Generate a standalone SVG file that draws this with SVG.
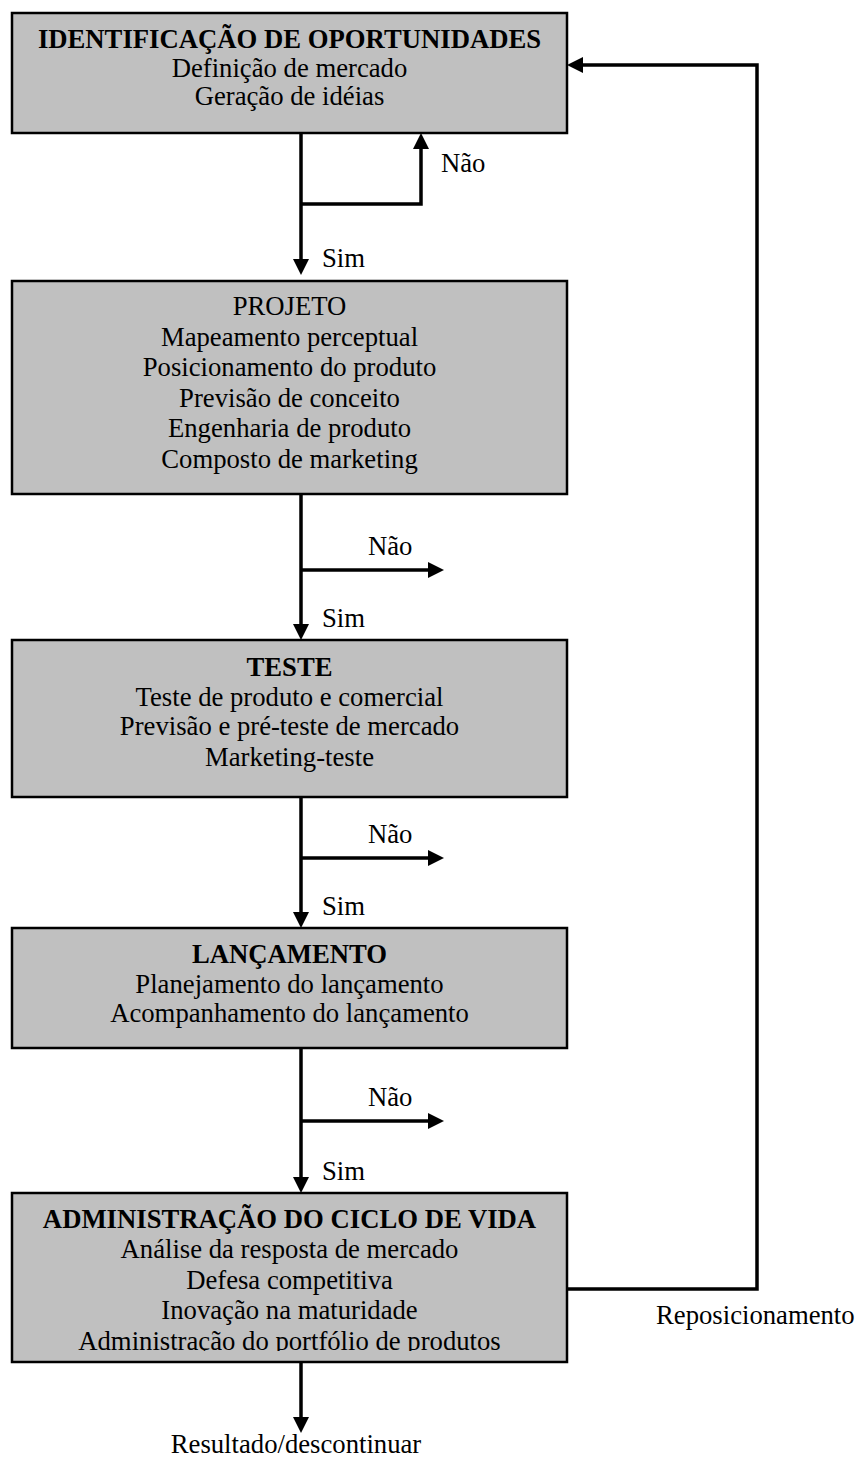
<svg xmlns="http://www.w3.org/2000/svg" width="858" height="1458" viewBox="0 0 858 1458">
  <style>
    .box { fill: #c0c0c0; stroke: #000; stroke-width: 2.5; }
    .t { font-family: "Liberation Serif", "Times New Roman", serif; font-size: 26.7px; fill: #000; text-anchor: middle; }
    .b { font-weight: bold; }
    .lbl { font-family: "Liberation Serif", "Times New Roman", serif; font-size: 26.7px; fill: #000; }
    .wire { fill: none; stroke: #000; stroke-width: 3.5; stroke-linejoin: miter; }
  </style>
  <defs>
    <marker id="arrow" viewBox="0 0 16 16" refX="3" refY="8" markerWidth="16" markerHeight="16" markerUnits="userSpaceOnUse" orient="auto">
      <path d="M0,0 L16,8 L0,16 z" fill="#000"/>
    </marker>
    <clipPath id="clip-admin">
      <rect x="12" y="1193" width="555" height="158"/>
    </clipPath>
  </defs>

  <rect x="0" y="0" width="858" height="1458" fill="#fff"/>

  <!-- connectors -->
  <g id="connectors">
    <!-- identificação -> projeto -->
    <path class="wire" d="M301,133 V262" marker-end="url(#arrow)"/>
    <path class="wire" d="M301,204 H421 V146" marker-end="url(#arrow)"/>
    <!-- projeto -> teste -->
    <path class="wire" d="M301,494 V627" marker-end="url(#arrow)"/>
    <path class="wire" d="M301,570 H431" marker-end="url(#arrow)"/>
    <!-- teste -> lançamento -->
    <path class="wire" d="M301,797 V915" marker-end="url(#arrow)"/>
    <path class="wire" d="M301,858 H431" marker-end="url(#arrow)"/>
    <!-- lançamento -> ciclo de vida -->
    <path class="wire" d="M301,1048 V1180" marker-end="url(#arrow)"/>
    <path class="wire" d="M301,1121 H431" marker-end="url(#arrow)"/>
    <!-- saída final -->
    <path class="wire" d="M301,1362 V1420" marker-end="url(#arrow)"/>
    <!-- reposicionamento -->
    <path class="wire" d="M567,1289 H757 V65 H580" marker-end="url(#arrow)"/>
  </g>

  <!-- connector labels -->
  <g id="labels">
    <text class="lbl" x="441" y="172">Não</text>
    <text class="lbl" x="322" y="267">Sim</text>
    <text class="lbl" x="368" y="555">Não</text>
    <text class="lbl" x="322" y="627">Sim</text>
    <text class="lbl" x="368" y="843">Não</text>
    <text class="lbl" x="322" y="915">Sim</text>
    <text class="lbl" x="368" y="1106">Não</text>
    <text class="lbl" x="322" y="1180">Sim</text>
    <text class="lbl" x="656" y="1324">Reposicionamento</text>
    <text class="t" x="296" y="1453">Resultado/descontinuar</text>
  </g>

  <g id="node-identificacao">
    <rect class="box" x="12" y="13" width="555" height="120"/>
    <text class="t b" x="289.5" y="48">IDENTIFICAÇÃO DE OPORTUNIDADES</text>
    <text class="t" x="289.5" y="77">Definição de mercado</text>
    <text class="t" x="289.5" y="105">Geração de idéias</text>
  </g>

  <g id="node-projeto">
    <rect class="box" x="12" y="281" width="555" height="213"/>
    <text class="t" x="289.5" y="315">PROJETO</text>
    <text class="t" x="289.5" y="346">Mapeamento perceptual</text>
    <text class="t" x="289.5" y="376">Posicionamento do produto</text>
    <text class="t" x="289.5" y="407">Previsão de conceito</text>
    <text class="t" x="289.5" y="437">Engenharia de produto</text>
    <text class="t" x="289.5" y="468">Composto de marketing</text>
  </g>

  <g id="node-teste">
    <rect class="box" x="12" y="640" width="555" height="157"/>
    <text class="t b" x="289.5" y="676">TESTE</text>
    <text class="t" x="289.5" y="706">Teste de produto e comercial</text>
    <text class="t" x="289.5" y="735">Previsão e pré-teste de mercado</text>
    <text class="t" x="289.5" y="766">Marketing-teste</text>
  </g>

  <g id="node-lancamento">
    <rect class="box" x="12" y="928" width="555" height="120"/>
    <text class="t b" x="289.5" y="963">LANÇAMENTO</text>
    <text class="t" x="289.5" y="993">Planejamento do lançamento</text>
    <text class="t" x="289.5" y="1022">Acompanhamento do lançamento</text>
  </g>

  <g id="node-ciclo-de-vida">
    <rect class="box" x="12" y="1193" width="555" height="169"/>
    <g clip-path="url(#clip-admin)">
      <text class="t b" x="289.5" y="1228">ADMINISTRAÇÃO DO CICLO DE VIDA</text>
      <text class="t" x="289.5" y="1258">Análise da resposta de mercado</text>
      <text class="t" x="289.5" y="1289">Defesa competitiva</text>
      <text class="t" x="289.5" y="1319">Inovação na maturidade</text>
      <text class="t" x="289.5" y="1350">Administração do portfólio de produtos</text>
    </g>
  </g>
</svg>
